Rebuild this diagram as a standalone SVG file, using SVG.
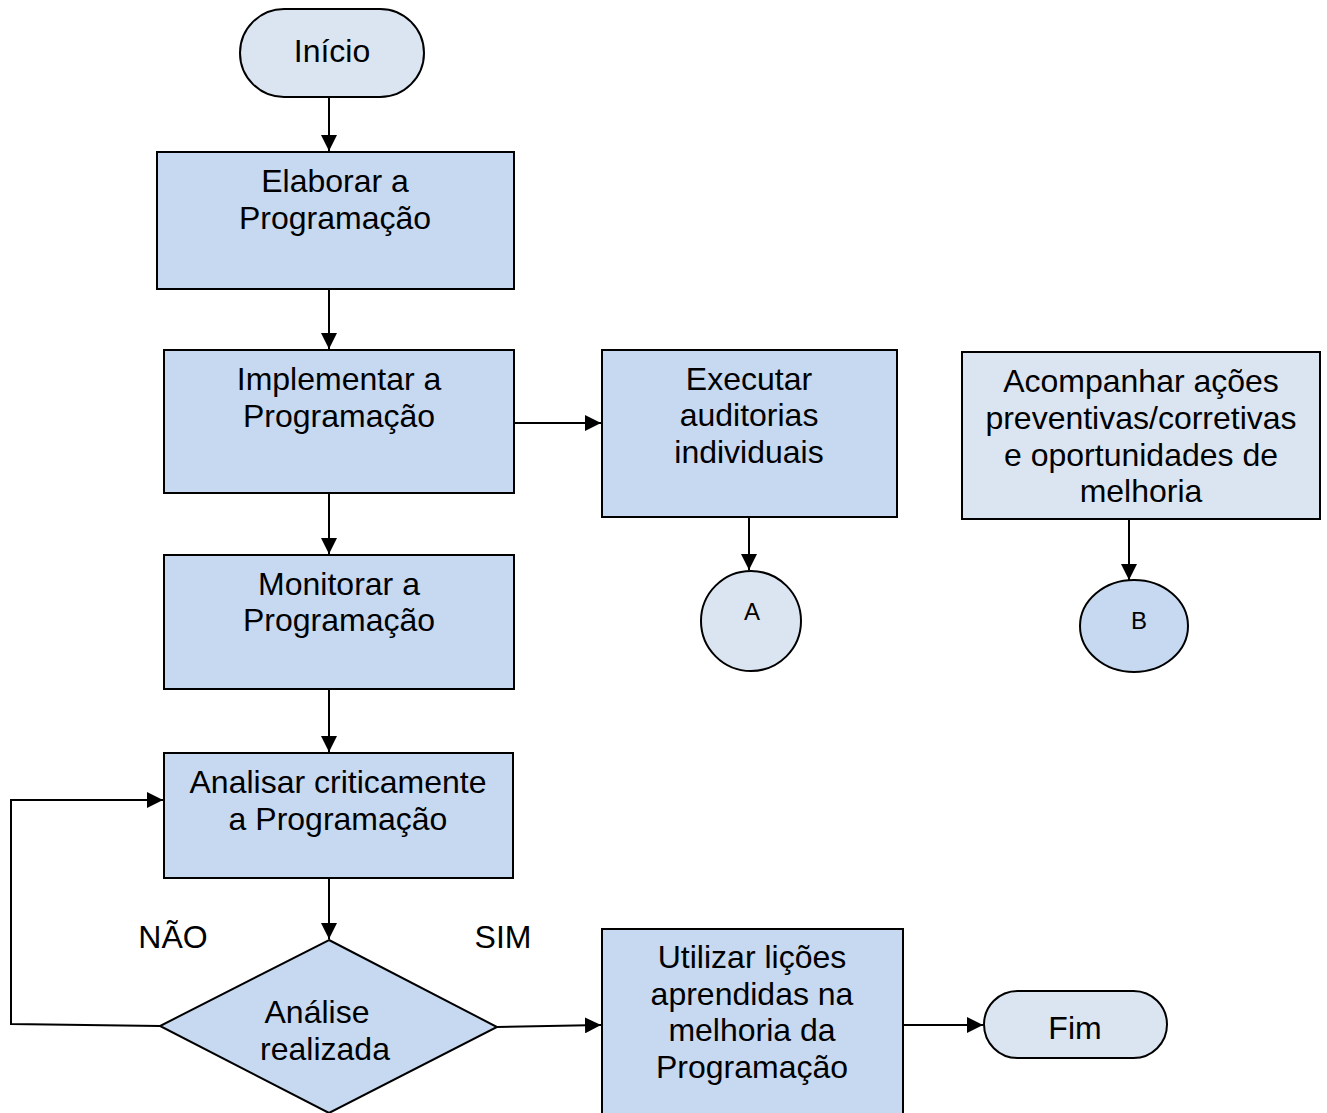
<svg xmlns="http://www.w3.org/2000/svg" width="1327" height="1113" viewBox="0 0 1327 1113">
  <style>
    .box { fill: #C6D9F1; stroke: #000; stroke-width: 2; }
    .lite { fill: #DBE5F1; stroke: #000; stroke-width: 2; }
    .t { font-family: "Liberation Sans", Arial, sans-serif; font-size: 32px; fill: #000; text-anchor: middle; }
    .s { font-family: "Liberation Sans", Arial, sans-serif; font-size: 24px; fill: #000; text-anchor: middle; }
    .ln { fill: none; stroke: #000; stroke-width: 2; }
  </style>
  <defs>
    <marker id="arrow" viewBox="0 0 10 10" refX="10" refY="5" markerWidth="16" markerHeight="16" markerUnits="userSpaceOnUse" orient="auto">
      <path d="M0,0 L10,5 L0,10 Z" fill="#000"/>
    </marker>
  </defs>
  <rect width="1327" height="1113" fill="#fff"/>

  <g id="connectors">
    <line class="ln" x1="329" y1="97" x2="329" y2="151" marker-end="url(#arrow)"/>
    <line class="ln" x1="329" y1="289" x2="329" y2="349" marker-end="url(#arrow)"/>
    <line class="ln" x1="514" y1="423" x2="601" y2="423" marker-end="url(#arrow)"/>
    <line class="ln" x1="749" y1="517" x2="749" y2="570" marker-end="url(#arrow)"/>
    <line class="ln" x1="1129" y1="519" x2="1129" y2="580" marker-end="url(#arrow)"/>
    <line class="ln" x1="329" y1="493" x2="329" y2="554" marker-end="url(#arrow)"/>
    <line class="ln" x1="329" y1="689" x2="329" y2="752" marker-end="url(#arrow)"/>
    <line class="ln" x1="329" y1="878" x2="329" y2="939" marker-end="url(#arrow)"/>
    <polyline class="ln" points="160,1026 11,1024 11,800 163,800" marker-end="url(#arrow)"/>
    <line class="ln" x1="497" y1="1027" x2="601" y2="1025" marker-end="url(#arrow)"/>
    <line class="ln" x1="903" y1="1025" x2="983" y2="1025" marker-end="url(#arrow)"/>
  </g>

  <g id="inicio">
    <rect class="lite" x="240" y="9" width="184" height="88" rx="44" ry="44"/>
    <text class="t" x="332" y="62">Início</text>
  </g>

  <g id="elaborar">
    <rect class="box" x="157" y="152" width="357" height="137"/>
    <text class="t" x="335" y="192">Elaborar a</text>
    <text class="t" x="335" y="229">Programação</text>
  </g>

  <g id="implementar">
    <rect class="box" x="164" y="350" width="350" height="143"/>
    <text class="t" x="339" y="390">Implementar a</text>
    <text class="t" x="339" y="427">Programação</text>
  </g>

  <g id="executar">
    <rect class="box" x="602" y="350" width="295" height="167"/>
    <text class="t" x="749" y="390">Executar</text>
    <text class="t" x="749" y="426">auditorias</text>
    <text class="t" x="749" y="463">individuais</text>
  </g>

  <g id="conector-a">
    <circle class="lite" cx="751" cy="621" r="50"/>
    <text class="s" x="752" y="620">A</text>
  </g>

  <g id="acompanhar">
    <rect class="lite" x="962" y="352" width="358" height="167"/>
    <text class="t" x="1141" y="392">Acompanhar ações</text>
    <text class="t" x="1141" y="429">preventivas/corretivas</text>
    <text class="t" x="1141" y="466">e oportunidades de</text>
    <text class="t" x="1141" y="502">melhoria</text>
  </g>

  <g id="conector-b">
    <ellipse class="box" cx="1134" cy="626" rx="54" ry="46"/>
    <text class="s" x="1139" y="629">B</text>
  </g>

  <g id="monitorar">
    <rect class="box" x="164" y="555" width="350" height="134"/>
    <text class="t" x="339" y="595">Monitorar a</text>
    <text class="t" x="339" y="631">Programação</text>
  </g>

  <g id="analisar">
    <rect class="box" x="164" y="753" width="349" height="125"/>
    <text class="t" x="338" y="793">Analisar criticamente</text>
    <text class="t" x="338" y="830">a Programação</text>
  </g>

  <g id="decisao">
    <polygon class="box" points="329,940 497,1027 329,1113 160,1026"/>
    <text class="t" x="317" y="1023">Análise</text>
    <text class="t" x="325" y="1060">realizada</text>
  </g>

  <g id="rotulos">
    <text class="t" x="173" y="948">NÃO</text>
    <text class="t" x="503" y="948">SIM</text>
  </g>

  <g id="utilizar">
    <rect class="box" x="602" y="929" width="301" height="190"/>
    <text class="t" x="752" y="968">Utilizar lições</text>
    <text class="t" x="752" y="1005">aprendidas na</text>
    <text class="t" x="752" y="1041">melhoria da</text>
    <text class="t" x="752" y="1078">Programação</text>
  </g>

  <g id="fim">
    <rect class="lite" x="984" y="991" width="183" height="67" rx="33.5" ry="33.5"/>
    <text class="t" x="1075" y="1039">Fim</text>
  </g>
</svg>
